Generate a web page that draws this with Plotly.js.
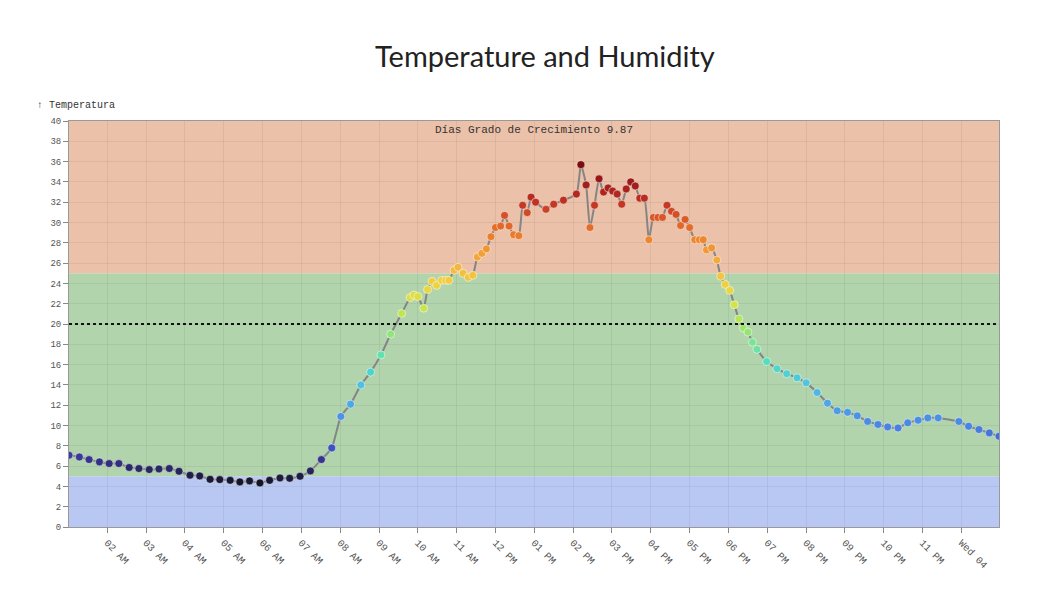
<!DOCTYPE html>
<html>
<head>
<meta charset="utf-8">
<script src="https://cdn.plot.ly/plotly-3.0.1.min.js"></script>
<style>html,body{margin:0;padding:0;background:#fff;}#chart{width:1054px;height:606px;}</style>
</head>
<body>
<div id="chart"></div>
<script>
// ---- data ----
const startDate = '2015-11-03';
const nextDate = '2015-11-04';
const times = [
 '01:01','01:17','01:32','01:48','02:03','02:18','02:34','02:49','03:05','03:20',
 '03:36','03:51','04:08','04:23','04:39','04:54','05:10','05:25','05:40','05:56',
 '06:11','06:27','06:42','06:58','07:14','07:31','07:47','08:01','08:16','08:32',
 '08:47','09:03','09:18','09:35','09:48','09:54','10:00','10:09','10:15','10:22',
 '10:29','10:37','10:43','10:48','10:56','11:02','11:10','11:18','11:25','11:32',
 '11:39','11:46','11:53','12:00','12:08','12:14','12:21','12:28','12:36','12:42',
 '12:49','12:55','13:02','13:18','13:30','13:45','14:05','14:12','14:20','14:26',
 '14:33','14:40','14:47','14:54','15:01','15:08','15:15','15:22','15:29','15:36',
 '15:43','15:50','15:57','16:04','16:11','16:18','16:25','16:32','16:39','16:46',
 '16:53','17:00','17:08','17:15','17:21','17:26','17:34','17:42','17:48','17:55',
 '18:02','18:09','18:16','18:23','18:30','18:37','18:44','18:59','19:15','19:30',
 '19:46','20:00','20:17','20:33','20:48','21:04','21:19','21:35','21:51','22:06',
 '22:22','22:37','22:53','23:08','23:24','23:56','00:11','00:27','00:43','00:58'
];
const temperatura = [
 7.07,6.9,6.64,6.41,6.25,6.25,5.86,5.76,5.66,5.72,
 5.76,5.49,5.1,5.03,4.7,4.67,4.6,4.44,4.54,4.34,
 4.6,4.83,4.8,5.0,5.52,6.64,7.79,10.89,12.1,14.0,
 15.26,16.96,19.0,21.04,22.6,22.85,22.7,21.55,23.4,24.2,
 23.8,24.3,24.3,24.3,25.3,25.6,25.0,24.6,24.8,26.6,
 26.96,27.4,28.6,29.5,29.65,30.7,29.65,28.8,28.7,31.7,
 30.97,32.5,32.0,31.3,31.8,32.2,32.8,35.7,33.7,29.5,
 31.7,34.3,33.0,33.4,33.1,32.8,31.8,33.3,34.0,33.6,
 32.4,32.4,28.3,30.5,30.5,30.5,31.7,31.1,30.8,29.7,
 30.3,29.5,28.3,28.3,28.3,27.3,27.5,26.3,24.7,23.9,
 23.3,21.9,20.5,19.6,19.2,18.2,17.5,16.3,15.6,15.1,
 14.7,14.2,13.25,12.2,11.45,11.3,10.95,10.4,10.1,9.86,
 9.76,10.26,10.52,10.75,10.75,10.4,9.93,9.6,9.27,8.94
];
const tickHours = ['02:00','03:00','04:00','05:00','06:00','07:00','08:00','09:00','10:00','11:00','12:00','13:00',
 '14:00','15:00','16:00','17:00','18:00','19:00','20:00','21:00','22:00','23:00','24:00'];
const tickLabels = ['02 AM','03 AM','04 AM','05 AM','06 AM','07 AM','08 AM','09 AM','10 AM','11 AM','12 PM','01 PM',
 '02 PM','03 PM','04 PM','05 PM','06 PM','07 PM','08 PM','09 PM','10 PM','11 PM','Wed 04'];
const zoneLow = 5, zoneHigh = 25, zoneTop = 40, threshold = 20;
const titleText = 'Temperature and Humidity';
const yTitle = '\u2191 Temperatura';
const gddText = 'D\u00edas Grado de Crecimiento 9.87';

// ---- build timestamps ----
let day = startDate, prev = -1;
const x = times.map(t => {
  const m = parseInt(t.slice(0,2))*60 + parseInt(t.slice(3));
  if (m < prev) day = nextDate;
  prev = m;
  return day + ' ' + t + ':00';
});
const tickVals = tickHours.map(t => t === '24:00' ? nextDate + ' 00:00:00' : startDate + ' ' + t + ':00');

const cs = [
 [0,'#101018'],[0.03125,'#1e1e44'],[0.09375,'#3a3a9c'],[0.125,'#3a5ac8'],[0.1875,'#4a86e0'],
 [0.25,'#4ea4e2'],[0.3125,'#50c2e0'],[0.375,'#50dcc0'],[0.4375,'#78e498'],[0.5,'#a8e660'],
 [0.5625,'#d4e448'],[0.625,'#f0d040'],[0.6875,'#f4b040'],[0.75,'#ee8c30'],[0.8125,'#e06228'],
 [0.875,'#c03222'],[0.9375,'#9c1a18'],[1,'#7a0a0a']
];

const trace = {
  x: x, y: temperatura, type: 'scatter', mode: 'lines+markers',
  line: {color: '#858585', width: 2, shape: 'spline', smoothing: 0.5},
  marker: {size: 8, color: temperatura, colorscale: cs, cmin: 4, cmax: 36, showscale: false,
           line: {color: 'rgba(255,255,255,0.5)', width: 1}},
  hoverinfo: 'x+y'
};

const mono = 'Liberation Mono, Courier New, monospace';
const layout = {
  width: 1054, height: 606,
  margin: {l: 69, r: 55, t: 121, b: 79},
  paper_bgcolor: '#ffffff', plot_bgcolor: '#ffffff',
  showlegend: false,
  title: {text: titleText, font: {family: 'Lato, sans-serif', size: 29, color: '#222'},
          x: 0.517, xref: 'container', xanchor: 'center', y: 0.906, yref: 'container', yanchor: 'middle'},
  xaxis: {type: 'date', range: [x[0], x[x.length-1]], tickmode: 'array', tickvals: tickVals, ticktext: tickLabels,
          tickangle: 45, ticks: 'outside', ticklen: 5, tickcolor: '#888',
          tickfont: {family: mono, size: 10, color: '#555'},
          showgrid: true, gridcolor: 'rgba(60,60,60,0.08)', gridwidth: 1,
          showline: true, linecolor: '#999', linewidth: 1, mirror: true, zeroline: false},
  yaxis: {range: [0, zoneTop], dtick: 2, tick0: 0, ticks: 'outside', ticklen: 5, tickcolor: '#888',
          tickfont: {family: mono, size: 9, color: '#555'},
          showgrid: true, gridcolor: 'rgba(60,60,60,0.08)', gridwidth: 1,
          showline: true, linecolor: '#999', linewidth: 1, mirror: true, zeroline: false},
  shapes: [
    {type: 'rect', xref: 'paper', yref: 'y', x0: 0, x1: 1, y0: 0, y1: zoneLow, fillcolor: '#b9c8f2', line: {width: 0}, layer: 'below'},
    {type: 'rect', xref: 'paper', yref: 'y', x0: 0, x1: 1, y0: zoneLow, y1: zoneHigh, fillcolor: '#b1d4ad', line: {width: 0}, layer: 'below'},
    {type: 'rect', xref: 'paper', yref: 'y', x0: 0, x1: 1, y0: zoneHigh, y1: zoneTop, fillcolor: '#ebc1a9', line: {width: 0}, layer: 'below'},
    {type: 'line', xref: 'paper', yref: 'y', x0: 0, x1: 1, y0: threshold, y1: threshold, line: {color: '#111', width: 2, dash: 'dot'}}
  ],
  annotations: [
    {text: yTitle, xref: 'paper', yref: 'paper', x: -0.037, y: 1.037, xanchor: 'left', yanchor: 'middle', showarrow: false,
     font: {family: mono, size: 10, color: '#333'}},
    {text: gddText, xref: 'paper', yref: 'paper', x: 0.5, y: 0.977, xanchor: 'center', yanchor: 'middle', showarrow: false,
     font: {family: mono, size: 11, color: '#333'}}
  ]
};
Plotly.newPlot('chart', [trace], layout, {displayModeBar: false, staticPlot: true});
</script>
</body>
</html>
